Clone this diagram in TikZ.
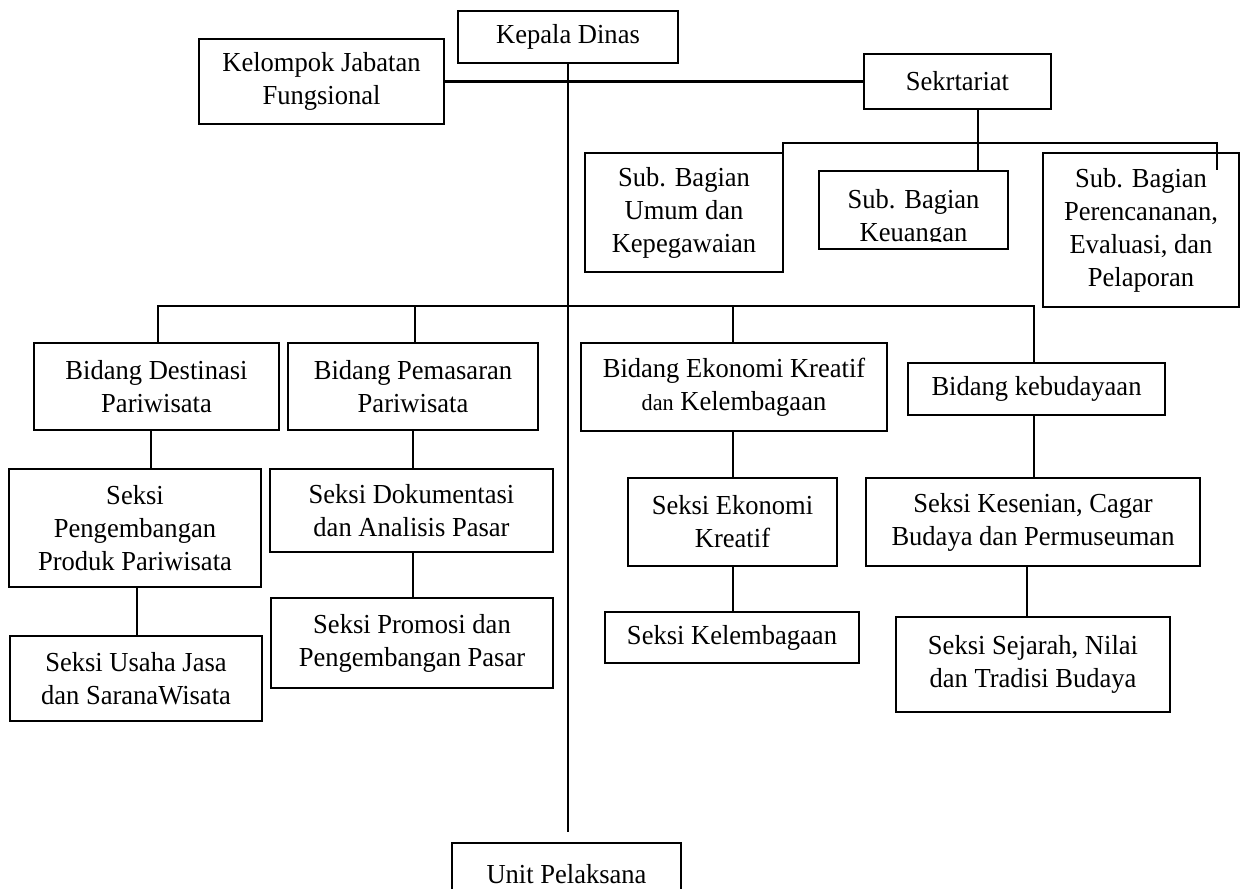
\documentclass[tikz,border=0pt]{standalone}
\usepackage{fontspec}
\setmainfont{Liberation Serif}[FakeStretch=0.965]
\begin{document}
\begin{tikzpicture}[x=1pt,y=-1pt,
  box/.style={draw, line width=2.2pt, inner sep=0pt, align=center,
    font=\fontsize{27.5}{33}\selectfont},
  conn/.style={line width=2.2pt}]
\useasboundingbox (0,0) rectangle (1248,889);
% top level
\node[box, minimum width=220pt, minimum height=52pt] (kepala) at (568,37) {Kepala Dinas};
\node[box, minimum width=245pt, minimum height=85pt] (kelompok) at (321.5,81.5) {Kelompok Jabatan\\Fungsional};
\node[box, minimum width=187pt, minimum height=55pt] (sekr) at (957.5,81.5) {Sekrtariat};
% sekretariat sub units
\node[box, minimum width=198pt, minimum height=119pt] (umum) at (684,212.5) {Sub. Bagian\\Umum dan\\Kepegawaian};
\node[box, minimum width=189pt, minimum height=78pt,
  path picture={
    \clip ([yshift=8pt]path picture bounding box.south west) rectangle (path picture bounding box.north east);
    \node[align=center, inner sep=0pt, font=\fontsize{27.5}{33}\selectfont]
      at ([yshift=-8pt]path picture bounding box.center) {Sub. Bagian\\Keuangan};
  }] (keu) at (913.5,210) {};
\node[box, minimum width=196pt, minimum height=154pt] (renc) at (1141,230) {Sub. Bagian\\Perencananan,\\Evaluasi, dan\\Pelaporan};
% bidang
\node[box, minimum width=245pt, minimum height=87pt] (dest) at (156.5,386.5) {Bidang Destinasi\\Pariwisata};
\node[box, minimum width=250pt, minimum height=87pt] (pemas) at (413,386.5) {Bidang Pemasaran\\Pariwisata};
\node[box, minimum width=306pt, minimum height=88pt] (ekon) at (734,387) {Bidang Ekonomi Kreatif\\{\fontsize{23}{33}\selectfont dan} Kelembagaan};
\node[box, minimum width=257pt, minimum height=52pt] (budaya) at (1036.5,389) {Bidang kebudayaan};
% seksi
\node[box, minimum width=252pt, minimum height=118pt] (pengemb) at (135,528) {Seksi\\Pengembangan\\Produk Pariwisata};
\node[box, minimum width=252pt, minimum height=85pt] (usaha) at (136,678.5) {Seksi Usaha Jasa\\dan SaranaWisata};
\node[box, minimum width=283pt, minimum height=83pt] (dokum) at (411.5,510.5) {Seksi Dokumentasi\\dan Analisis Pasar};
\node[box, minimum width=282pt, minimum height=90pt] (promosi) at (412,643) {Seksi Promosi dan\\Pengembangan Pasar};
\node[box, minimum width=209pt, minimum height=88pt] (sekonomi) at (732.5,522) {Seksi Ekonomi\\Kreatif};
\node[box, minimum width=254pt, minimum height=51pt] (kelemb) at (732,637.5) {Seksi Kelembagaan};
\node[box, minimum width=334pt, minimum height=88pt] (kesenian) at (1033,522) {Seksi Kesenian, Cagar\\Budaya dan Permuseuman};
\node[box, minimum width=274pt, minimum height=95pt] (sejarah) at (1033,664.5) {Seksi Sejarah, Nilai\\dan Tradisi Budaya};
\node[box, minimum width=229pt, minimum height=62pt] (unit) at (566.5,874) {Unit Pelaksana};
% helper coordinates
\coordinate (unittop) at (568,832);
\coordinate (sbus) at (978,142.7);
\coordinate (sbusL) at (783,142.7);
\coordinate (sbusR) at (1217,142.7);
\coordinate (sdropL) at (783,170);
\coordinate (sdropR) at (1217,170);
\coordinate (bbusL) at (158,305.7);
\coordinate (bbusP) at (415,305.7);
\coordinate (bbusE) at (733,305.7);
\coordinate (bbusR) at (1034,305.7);
% connectors
\draw[conn] (kepala.south) -- (unittop);
\draw[conn] (kelompok.east) -- (sekr.west);
\draw[conn] (sbus |- sekr.south) -- (sbus |- keu.north);
\draw[conn] (sdropL) -- (sbusL) -- (sbusR) -- (sdropR);
\draw[conn] (bbusL |- dest.north) -- (bbusL) -- (bbusR) -- (bbusR |- budaya.north);
\draw[conn] (bbusP) -- (bbusP |- pemas.north);
\draw[conn] (bbusE) -- (bbusE |- ekon.north);
\coordinate (c1) at (151,0);
\draw[conn] (c1 |- dest.south) -- (c1 |- pengemb.north);
\coordinate (c2) at (137,0);
\draw[conn] (c2 |- pengemb.south) -- (c2 |- usaha.north);
\coordinate (c3) at (413,0);
\draw[conn] (c3 |- pemas.south) -- (c3 |- dokum.north);
\draw[conn] (c3 |- dokum.south) -- (c3 |- promosi.north);
\coordinate (c4) at (733,0);
\draw[conn] (c4 |- ekon.south) -- (c4 |- sekonomi.north);
\draw[conn] (c4 |- sekonomi.south) -- (c4 |- kelemb.north);
\coordinate (c5) at (1034,0);
\draw[conn] (c5 |- budaya.south) -- (c5 |- kesenian.north);
\coordinate (c6) at (1027,0);
\draw[conn] (c6 |- kesenian.south) -- (c6 |- sejarah.north);
\end{tikzpicture}
\end{document}
